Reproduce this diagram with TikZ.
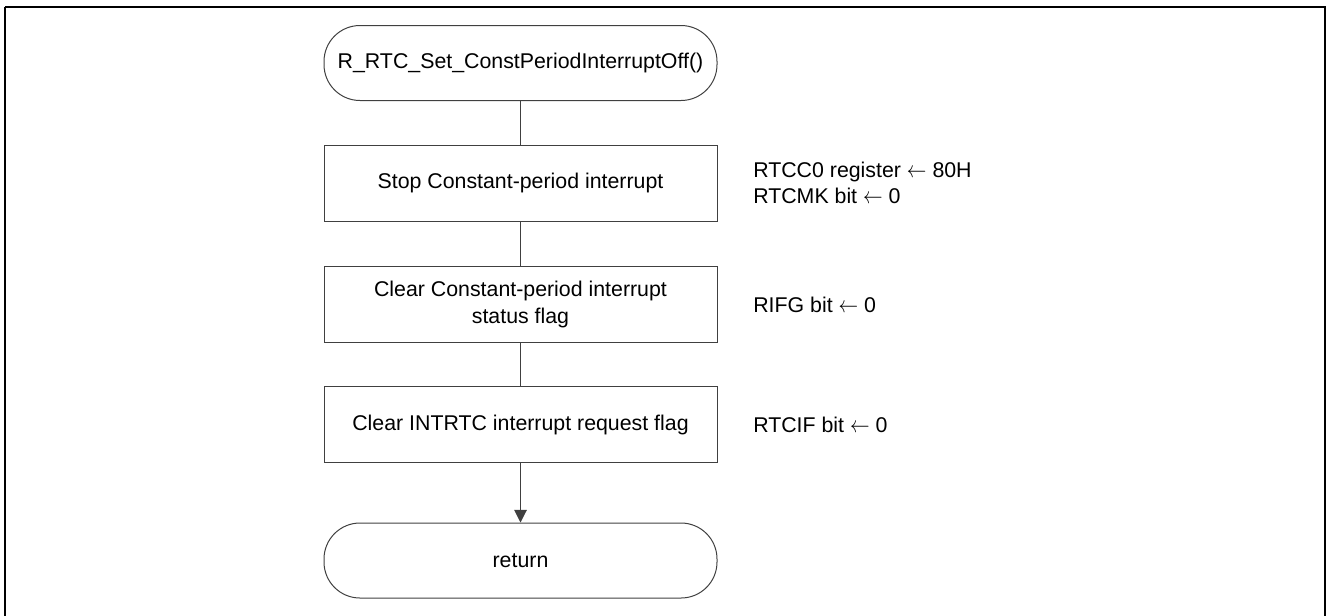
\documentclass[tikz,border=0pt]{standalone}
\usepackage{graphicx}
\usepackage{fontspec}
\setmainfont{Liberation Sans}
\usetikzlibrary{arrows.meta}
\newcommand{\larr}{\scalebox{0.85}[1]{$\leftarrow$}}
\begin{document}
\begin{tikzpicture}[x=0.75pt,y=-0.75pt,
  every node/.style={font=\fontsize{16}{20}\selectfont},
  procbox/.style={draw=black!75,line width=0.75pt,rectangle,minimum width=294.75pt,minimum height=57pt,align=center,inner sep=0pt},
  termbox/.style={draw=black!75,line width=0.75pt,rectangle,rounded corners=27pt,minimum width=294.75pt,minimum height=56.25pt,align=center,inner sep=0pt},
  notetext/.style={anchor=west,align=left,inner sep=0pt},
  flow/.style={draw=black!75,line width=0.75pt},
  flowarrow/.style={flow,-{Triangle[width=9.5pt,length=9.5pt]}}]
\useasboundingbox (0,0) rectangle (1326,615);
\draw[line width=1.6pt,black] (5,7) -- (1325,7) -- (1325,625) (5,625) -- (5,7);
\node[termbox] (start) at (520.5,63) {R\_RTC\_Set\_ConstPeriodInterruptOff()};
\node[procbox] (stop) at (520.5,183) {Stop Constant-period interrupt};
\node[procbox] (clr) at (520.5,304.5) {Clear Constant-period interrupt\\status flag};
\node[procbox] (intr) at (520.5,424.5) {Clear INTRTC interrupt request flag};
\node[termbox] (ret) at (520.5,560.5) {return};
\node[notetext] (n1) at (753,183) {RTCC0 register \larr{} 80H\\RTCMK bit \larr{} 0};
\node[notetext] (n2) at (753,304.5) {RIFG bit \larr{} 0};
\node[notetext] (n3) at (753,424.5) {RTCIF bit \larr{} 0};
\draw[flow] (start) -- (stop);
\draw[flow] (stop) -- (clr);
\draw[flow] (clr) -- (intr);
\draw[flowarrow] (intr) -- (ret);
\end{tikzpicture}
\end{document}
